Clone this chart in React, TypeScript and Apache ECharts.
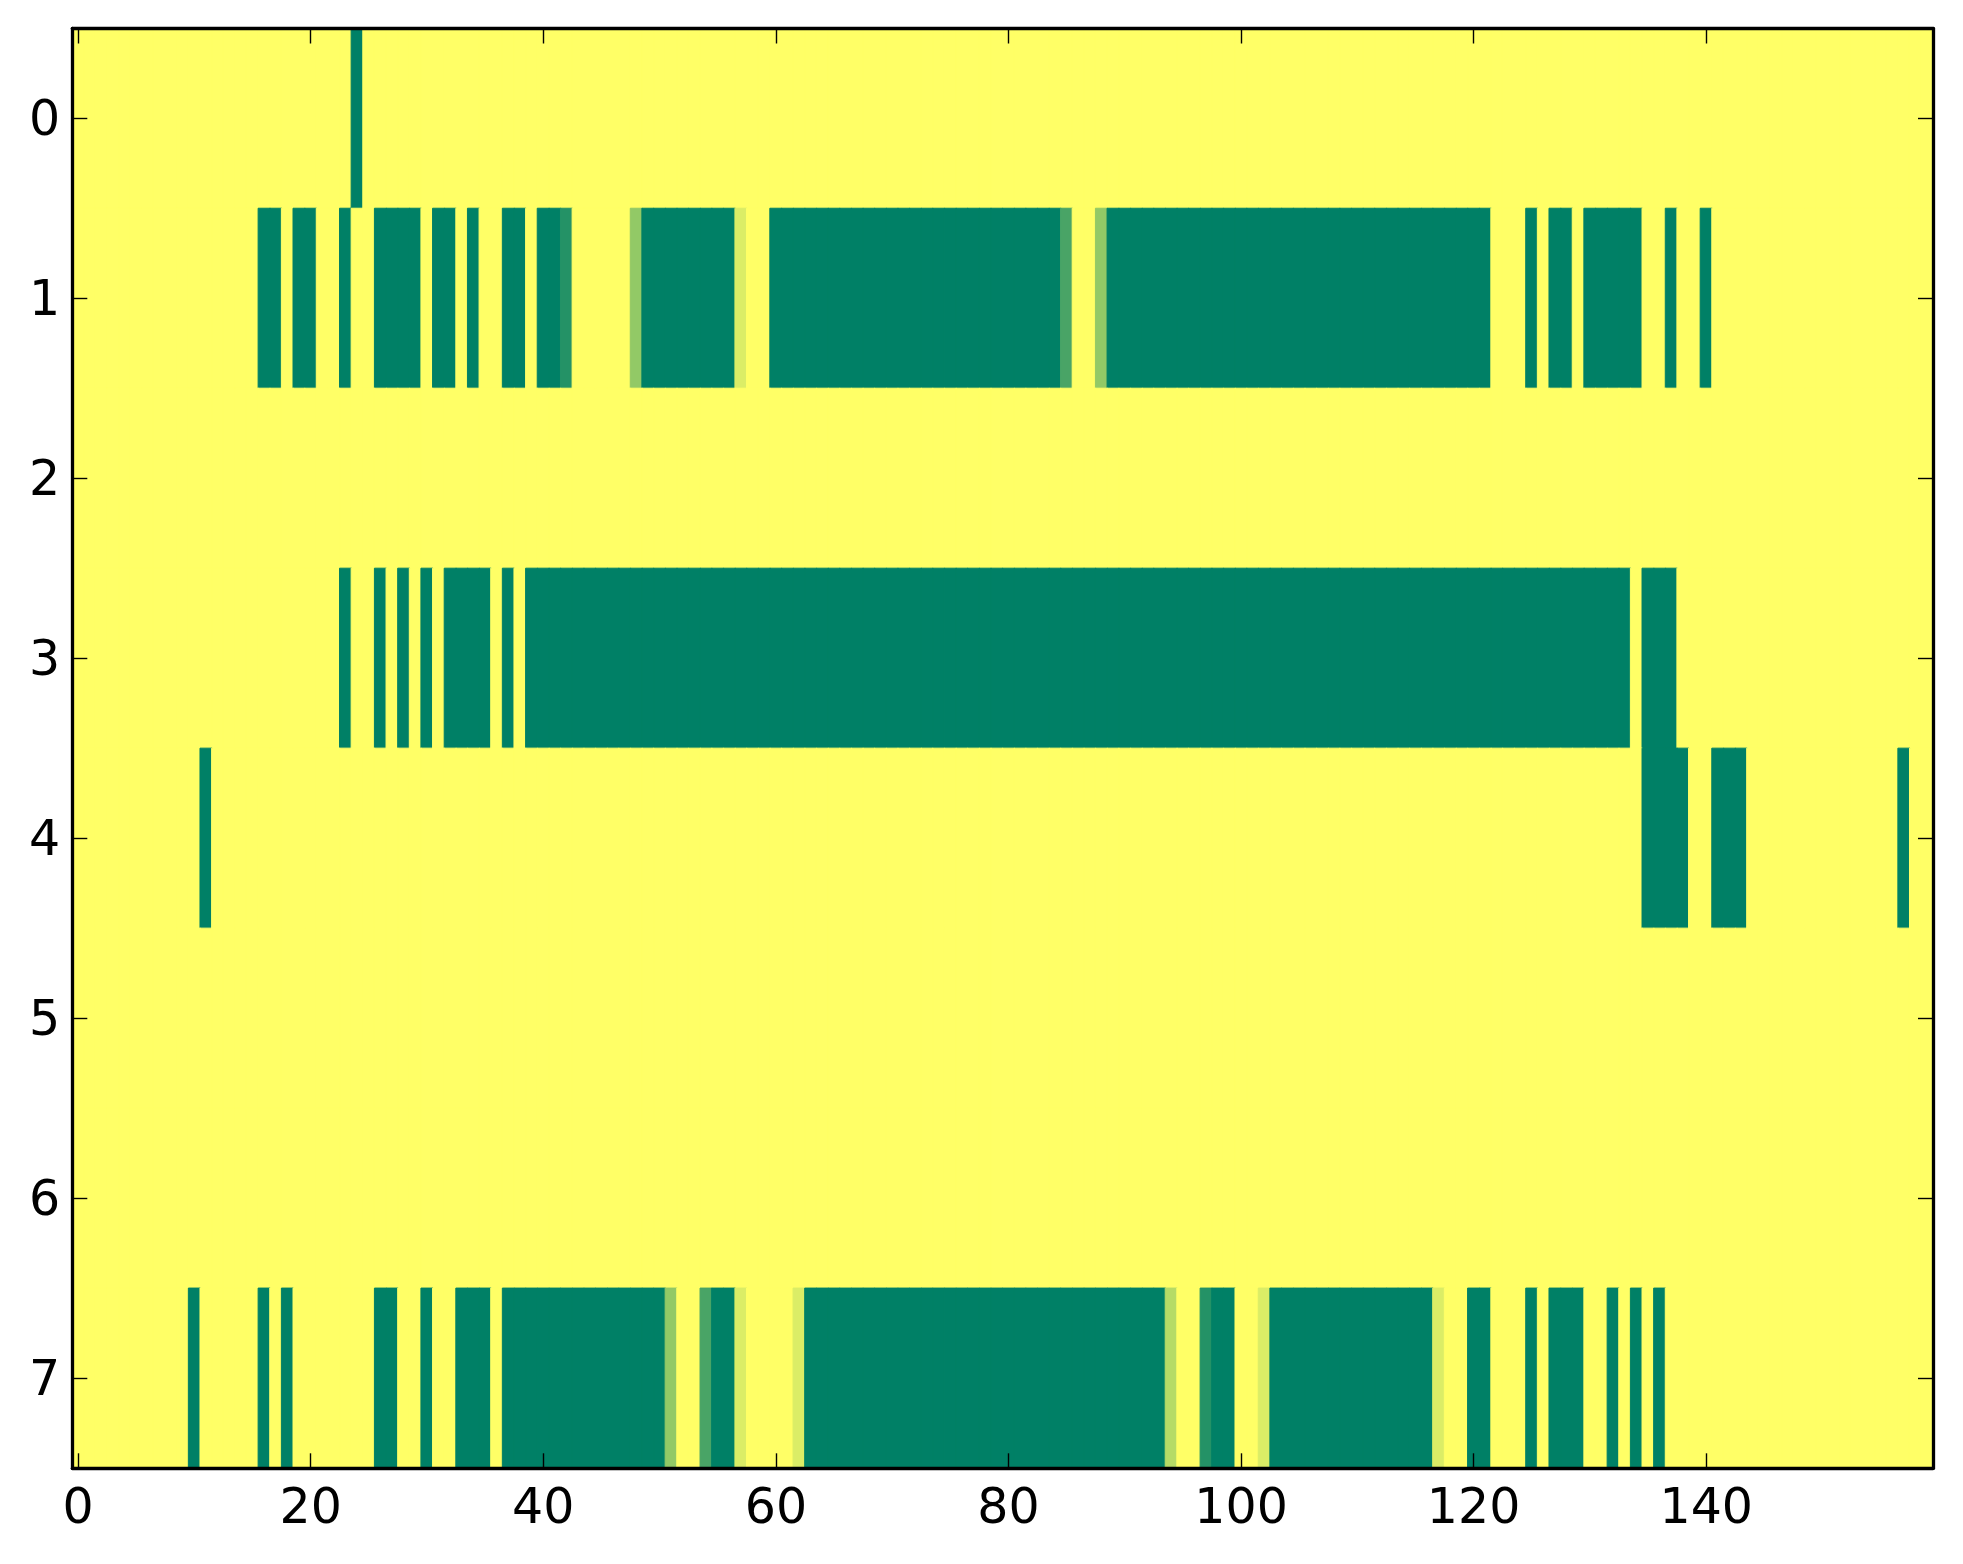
import { useEffect, useRef } from "react";
import * as echarts from "echarts";

// ---- data (1 = yellow, 0 = green) ----
const N_COLS = 160;
const xCategories: string[] = Array.from({ length: N_COLS }, (_, i) => String(i));
const yCategories: string[] = ["0", "1", "2", "3", "4", "5", "6", "7"];
const X_TICK_STEP = 20;

// cells that differ from 1: [firstCol, lastCol, value]
const row0Cells: [number, number, number][] = [[24, 24, 0]];
const row1Cells: [number, number, number][] = [
  [16, 17, 0], [19, 20, 0], [23, 23, 0], [26, 29, 0], [31, 32, 0], [34, 34, 0],
  [37, 38, 0], [40, 41, 0], [42, 42, 0.143], [48, 48, 0.571], [49, 56, 0],
  [57, 57, 0.857], [60, 84, 0], [85, 85, 0.286], [88, 88, 0.571], [89, 121, 0],
  [125, 125, 0], [127, 128, 0], [130, 134, 0], [137, 137, 0], [140, 140, 0],
];
const row2Cells: [number, number, number][] = [];
const row3Cells: [number, number, number][] = [
  [23, 23, 0], [26, 26, 0], [28, 28, 0], [30, 30, 0], [32, 35, 0], [37, 37, 0],
  [39, 133, 0], [135, 137, 0],
];
const row4Cells: [number, number, number][] = [
  [11, 11, 0], [135, 138, 0], [141, 143, 0], [157, 157, 0],
];
const row5Cells: [number, number, number][] = [];
const row6Cells: [number, number, number][] = [];
const row7Cells: [number, number, number][] = [
  [10, 10, 0], [16, 16, 0], [18, 18, 0], [26, 27, 0], [30, 30, 0], [33, 35, 0],
  [37, 50, 0], [51, 51, 0.571], [54, 54, 0.286], [55, 56, 0], [57, 57, 0.857],
  [62, 62, 0.857], [63, 93, 0], [94, 94, 0.714], [97, 97, 0.143], [98, 99, 0],
  [102, 102, 0.857], [103, 116, 0], [117, 117, 0.857], [120, 121, 0],
  [125, 125, 0], [127, 129, 0], [132, 132, 0], [134, 134, 0], [136, 136, 0],
];
const BACKGROUND_VALUE = 1;

const rows = [row0Cells, row1Cells, row2Cells, row3Cells, row4Cells, row5Cells, row6Cells, row7Cells];

// matplotlib "summer" colormap: (v, 0.5 + v/2, 0.4)
function summer(v: number): string {
  const r = Math.round(255 * v);
  const g = Math.round(255 * (0.5 + v / 2));
  const b = Math.round(255 * 0.4);
  return `rgb(${r},${g},${b})`;
}

function buildData() {
  const out: any[] = [];
  rows.forEach((cells, r) => {
    const vals = new Array(N_COLS).fill(BACKGROUND_VALUE);
    cells.forEach(([a, b, v]) => {
      for (let c = a; c <= b; c++) vals[c] = v;
    });
    vals.forEach((v, c) => {
      out.push({ value: [c, r, v], itemStyle: { borderColor: summer(v), borderWidth: 1 } });
    });
  });
  return out;
}

const FONT = "DejaVu Sans";
const frame = { show: true, onZero: false, lineStyle: { color: "#000", width: 3.3 } };
const tickStyle = { color: "#000", width: 1.4 };
const xTickFilter = (i: number) => i % X_TICK_STEP === 0;

export default function App() {
  const ref = useRef<HTMLDivElement>(null);
  useEffect(() => {
    const chart = echarts.init(ref.current!, null, { renderer: "svg" });
    chart.setOption({
      animation: false,
      backgroundColor: "#ffffff",
      grid: { left: 72.3, right: 30, top: 28.5, bottom: 95.7, containLabel: false },
      visualMap: {
        show: false,
        min: 0,
        max: 1,
        dimension: 2,
        seriesIndex: 0,
        inRange: { color: [summer(0), summer(1)] },
      },
      xAxis: [
        {
          type: "category",
          data: xCategories,
          position: "bottom",
          z: 10,
          axisLine: frame,
          axisTick: { show: true, inside: true, length: 15, alignWithLabel: true, interval: xTickFilter, lineStyle: tickStyle },
          axisLabel: { interval: xTickFilter, margin: 14, fontSize: 49, fontFamily: FONT, color: "#000" },
          splitLine: { show: false },
        },
        {
          type: "category",
          data: xCategories,
          position: "top",
          z: 10,
          axisLine: frame,
          axisTick: { show: true, inside: true, length: 15, alignWithLabel: true, interval: xTickFilter, lineStyle: tickStyle },
          axisLabel: { show: false },
          splitLine: { show: false },
        },
      ],
      yAxis: [
        {
          type: "category",
          data: yCategories,
          inverse: true,
          position: "left",
          z: 10,
          axisLine: frame,
          axisTick: { show: true, inside: true, length: 15, alignWithLabel: true, interval: 0, lineStyle: tickStyle },
          axisLabel: { interval: 0, margin: 12, fontSize: 49, fontFamily: FONT, color: "#000" },
          splitLine: { show: false },
        },
        {
          type: "category",
          data: yCategories,
          inverse: true,
          position: "right",
          z: 10,
          axisLine: frame,
          axisTick: { show: true, inside: true, length: 15, alignWithLabel: true, interval: 0, lineStyle: tickStyle },
          axisLabel: { show: false },
          splitLine: { show: false },
        },
      ],
      series: [
        {
          type: "heatmap",
          xAxisIndex: 0,
          yAxisIndex: 0,
          data: buildData(),
          progressive: 0,
          emphasis: { disabled: true },
        },
      ],
    });
    return () => chart.dispose();
  }, []);
  return (
    <div
      ref={ref}
      style={{ position: "fixed", left: 0, top: 0, width: 1963, height: 1564, background: "#fff" }}
    />
  );
}
